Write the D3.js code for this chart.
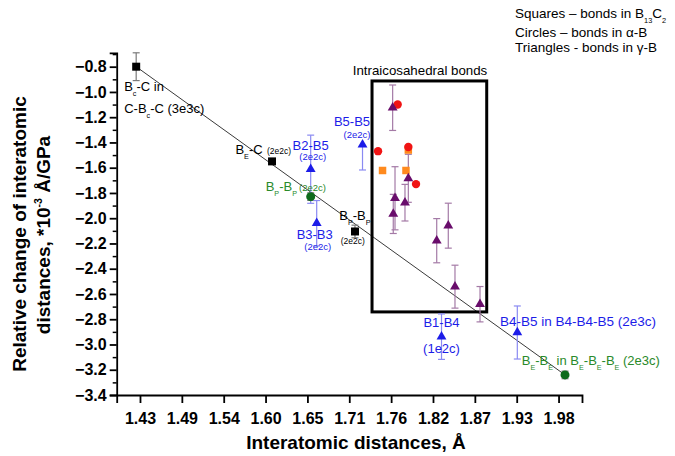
<!DOCTYPE html>
<html><head><meta charset="utf-8">
<script src="https://cdn.jsdelivr.net/npm/d3@7"></script>
<style>body{margin:0;background:#fff}svg{display:block}text{font-family:"Liberation Sans",Arial,sans-serif}</style>
</head><body><svg id="c" width="675" height="456"></svg>
<script>
// ---------- data ----------
// Squares – bonds in B13C2
const sqBlackX = [1.425, 1.6035, 1.7125];
const sqBlackY = [-0.80, -1.55, -2.105];
const sqBlackErr = [0.11, 0, 0.05];
const sqOrangeX = [1.7487, 1.7795, 1.7826];
const sqOrangeY = [-1.622, -1.622, -1.46];
// Circles – bonds in alpha-B
const cirRedX = [1.7428, 1.7686, 1.7826, 1.7927];
const cirRedY = [-1.469, -1.099, -1.436, -1.730];
const cirGreenX = [1.6543, 1.9885];
const cirGreenY = [-1.829, -3.241];
const cirGreenErr = [0.03, 0.03];
// Triangles – bonds in gamma-B
const triBlueNames = ["B2-B5", "B3-B3", "B5-B5", "B1-B4", "B4-B5"];
const triBlueX = [1.6543, 1.6622, 1.7224, 1.8262, 1.9258];
const triBlueY = [-1.612, -2.040, -1.418, -2.938, -2.905];
const triBlueErrUp = [0.27, 0.18, 0, 0.18, 0.21];
const triBlueErrDown = [0.27, 0.18, 0.2, 0.18, 0.21];
const triPurpleX = [1.762, 1.7826, 1.7651, 1.7782, 1.7628, 1.8199, 1.8351, 1.8439, 1.8768];
const triPurpleY = [-1.125, -1.684, -1.842, -1.877, -1.966, -2.178, -2.059, -2.542, -2.681];
const triPurpleErr = [0.18, 0.19, 0.25, 0.145, 0.155, 0.175, 0.178, 0.17, 0.14];
// linear trend and intraicosahedral frame
const fitX = [1.425, 1.9885];
const fitY = [-0.80, -3.241];
const boxX = [1.7349, 1.8856];
const boxY = [-0.913, -2.742];
// ticks
const xTickValues = [1.43, 1.485, 1.54, 1.595, 1.65, 1.705, 1.76, 1.815, 1.87, 1.925, 1.98];
const xTickLabels = ["1.43", "1.49", "1.54", "1.60", "1.65", "1.71", "1.76", "1.82", "1.87", "1.93", "1.98"];
const yTickValues = [-3.4, -3.2, -3.0, -2.8, -2.6, -2.4, -2.2, -2.0, -1.8, -1.6, -1.4, -1.2, -1.0, -0.8];
const yMinorValues = [-3.3, -3.1, -2.9, -2.7, -2.5, -2.3, -2.1, -1.9, -1.7, -1.5, -1.3, -1.1, -0.9, -0.7];

// ---------- drawing ----------
const svg = d3.select("#c");
const x = d3.scaleLinear().domain([1.3994, 2.0108]).range([116.7, 582]);
const y = d3.scaleLinear().domain([-3.4, -0.69]).range([395, 52.8]);

const BLUE = "#1c1ce8", BLUE_E = "#8a8af2", PURPLE = "#690d6b", PURPLE_E = "#a47aa6",
      RED = "#f01414", ORANGE = "#ff8a1e", GREEN = "#0d6b1b", GREEN_T = "#2a8a2a", GREY_E = "#7a7a7a";

// axes
const xAxis = d3.axisBottom(x).tickValues(xTickValues).tickFormat((d, i) => xTickLabels[i])
  .tickSizeOuter(0).tickSize(8).tickPadding(10);
const gx = svg.append("g").attr("transform", "translate(0,395)").call(xAxis);
gx.selectAll("text").attr("font-size", 16).attr("font-weight", "bold").attr("fill", "#000")
  .attr("font-family", '"Liberation Sans",Arial,sans-serif');
gx.selectAll("path,line").attr("stroke", "#000").attr("stroke-width", 1.8);

const yAxis = d3.axisLeft(y).tickValues(yTickValues).tickFormat(d3.format(".1f"))
  .tickSizeOuter(0).tickSize(7).tickPadding(3);
const gy = svg.append("g").attr("transform", "translate(116.7,0)").call(yAxis);
gy.selectAll("text").attr("font-size", 16).attr("font-weight", "bold").attr("fill", "#000")
  .attr("font-family", '"Liberation Sans",Arial,sans-serif');
gy.selectAll("path,line").attr("stroke", "#000").attr("stroke-width", 1.8);
const gym = svg.append("g").attr("transform", "translate(116.7,0)")
  .call(d3.axisLeft(y).tickValues(yMinorValues).tickFormat("").tickSizeOuter(0).tickSize(4));
gym.select(".domain").remove();
gym.selectAll("line").attr("stroke", "#000").attr("stroke-width", 1.5);

// axis titles
svg.append("text").attr("x", 356).attr("y", 449).attr("text-anchor", "middle")
  .attr("font-size", 19).attr("font-weight", "bold").text("Interatomic distances, Å");

function rich(parent, x0, y0, parts, size, fill, anchor, weight) {
  const t = parent.append("text").attr("x", x0).attr("y", y0).attr("font-size", size)
    .attr("fill", fill || "#000").attr("text-anchor", anchor || "start");
  if (weight) t.attr("font-weight", weight);
  let shift = 0;
  parts.forEach(p => {
    const [s, k] = typeof p === "string" ? [p, "n"] : p;
    const target = k === "sub" ? size * 0.38 : k === "sup" ? -size * 0.4 : 0;
    const ts = t.append("tspan").text(s).attr("dy", (target - shift).toFixed(2));
    if (k !== "n") ts.attr("font-size", (size * 0.55).toFixed(1));
    shift = target;
  });
  return t;
}

const yt = svg.append("g").attr("transform", "rotate(-90)");
yt.append("text").attr("x", -234).attr("y", 26).attr("text-anchor", "middle")
  .attr("font-size", 19).attr("font-weight", "bold").text("Relative change of interatomic");
rich(yt, -235, 50, ["distances, *10", ["-3", "sup"], " Å/GPa"], 19, "#000", "middle", "bold");

// trend line
svg.append("line").attr("x1", x(fitX[0])).attr("y1", y(fitY[0])).attr("x2", x(fitX[1])).attr("y2", y(fitY[1]))
  .attr("stroke", "#3a3a3a").attr("stroke-width", 1);

// frame
svg.append("rect").attr("x", x(boxX[0])).attr("y", y(boxY[0]))
  .attr("width", x(boxX[1]) - x(boxX[0])).attr("height", y(boxY[1]) - y(boxY[0]))
  .attr("fill", "none").attr("stroke", "#000").attr("stroke-width", 3);
svg.append("text").attr("x", x(boxX[0]) - 19.3).attr("y", y(boxY[0]) - 6)
  .attr("font-size", 13.3).text("Intraicosahedral bonds");

// error bars
const eg = svg.append("g");
function errBar(xv, yv, up, down, color) {
  if (!up && !down) return;
  const cx = x(xv), t = y(yv + up), b = y(yv - down), w = 3.5;
  eg.append("line").attr("x1", cx).attr("x2", cx).attr("y1", t).attr("y2", b).attr("stroke", color).attr("stroke-width", 1.2);
  if (up) eg.append("line").attr("x1", cx - w).attr("x2", cx + w).attr("y1", t).attr("y2", t).attr("stroke", color).attr("stroke-width", 1.2);
  if (down) eg.append("line").attr("x1", cx - w).attr("x2", cx + w).attr("y1", b).attr("y2", b).attr("stroke", color).attr("stroke-width", 1.2);
}
sqBlackX.forEach((v, i) => errBar(v, sqBlackY[i], sqBlackErr[i], sqBlackErr[i], GREY_E));
cirGreenX.forEach((v, i) => errBar(v, cirGreenY[i], cirGreenErr[i], cirGreenErr[i], GREY_E));
triBlueX.forEach((v, i) => errBar(v, triBlueY[i], triBlueErrUp[i], triBlueErrDown[i], BLUE_E));
triPurpleX.forEach((v, i) => errBar(v, triPurpleY[i], triPurpleErr[i], triPurpleErr[i], PURPLE_E));

// markers
const mg = svg.append("g");
const sqSym = d3.symbol(d3.symbolSquare, 64)();
const sqSymS = d3.symbol(d3.symbolSquare, 56)();
const triSym = d3.symbol(d3.symbolTriangle, 42)();
sqBlackX.forEach((v, i) => mg.append("path").attr("d", sqSym).attr("transform", `translate(${x(v)},${y(sqBlackY[i])})`).attr("fill", "#000"));
sqOrangeX.forEach((v, i) => mg.append("path").attr("d", sqSymS).attr("transform", `translate(${x(v)},${y(sqOrangeY[i])})`).attr("fill", ORANGE));
cirRedX.forEach((v, i) => mg.append("circle").attr("cx", x(v)).attr("cy", y(cirRedY[i])).attr("r", 4.2).attr("fill", RED));
cirGreenX.forEach((v, i) => mg.append("circle").attr("cx", x(v)).attr("cy", y(cirGreenY[i])).attr("r", 4.5).attr("fill", GREEN));
triPurpleX.forEach((v, i) => mg.append("path").attr("d", triSym).attr("transform", `translate(${x(v)},${y(triPurpleY[i])})`).attr("fill", PURPLE));
triBlueX.forEach((v, i) => mg.append("path").attr("d", triSym).attr("transform", `translate(${x(v)},${y(triBlueY[i])})`).attr("fill", BLUE));

// annotations
const lg = svg.append("g");
const P = (xa, ya, i) => [x(xa[i]), y(ya[i])];
let [px, py] = P(sqBlackX, sqBlackY, 0);
rich(lg, px - 12, py + 24, ["B", ["c", "sub"], "-C in"], 13, "#000");
rich(lg, px - 12, py + 46, ["C-B", ["c", "sub"], "-C (3e3c)"], 13, "#000");
[px, py] = P(sqBlackX, sqBlackY, 1);
rich(lg, px - 36.6, py - 7, ["B", ["E", "sub"], "-C"], 13, "#000");
lg.append("text").attr("x", px - 5).attr("y", py - 7).attr("font-size", 8.5).text("(2e2c)");
[px, py] = P(sqBlackX, sqBlackY, 2);
rich(lg, px - 15.7, py - 11, ["B", ["P", "sub"], "-B", ["P", "sub"]], 13, "#000");
lg.append("text").attr("x", px - 14.3).attr("y", py + 12.3).attr("font-size", 8.5).text("(2e2c)");

[px, py] = P(cirGreenX, cirGreenY, 0);
rich(lg, px - 45, py - 6, ["B", ["P", "sub"], "-B", ["P", "sub"]], 13, GREEN_T);
lg.append("text").attr("x", px - 11.7).attr("y", py - 6).attr("font-size", 9.5).attr("fill", GREEN_T).text("(2e2c)");
[px, py] = P(cirGreenX, cirGreenY, 1);
rich(lg, px - 43.3, py - 10, ["B", ["E", "sub"], "-B", ["E", "sub"], " in B", ["E", "sub"], "-B", ["E", "sub"], "-B", ["E", "sub"], " (2e3c)"], 13, GREEN_T);

function blueLab(i, dx, dy, sub, sdx, sdy, subSize) {
  const [bx, by] = P(triBlueX, triBlueY, i);
  lg.append("text").attr("x", bx + dx).attr("y", by + dy).attr("font-size", 13).attr("fill", BLUE)
    .attr("text-anchor", "middle").text(triBlueNames[i]);
  lg.append("text").attr("x", bx + sdx).attr("y", by + sdy).attr("font-size", subSize).attr("fill", BLUE)
    .attr("text-anchor", "middle").text(sub);
}
blueLab(0, 0, -19.5, "(2e2c)", 2, -9, 9.5);
blueLab(1, -2, 15.5, "(2e2c)", 1, 27, 9.5);
blueLab(2, -10.5, -19, "(2e2c)", -5.5, -7, 9.5);
blueLab(3, 0, -10, "(1e2c)", 0, 16, 13);
[px, py] = P(triBlueX, triBlueY, 4);
lg.append("text").attr("x", px - 17.3).attr("y", py - 6.5).attr("font-size", 13.5).attr("fill", BLUE)
  .text(triBlueNames[4] + " in B4-B4-B5 (2e3c)");

// legend
const leg = svg.append("g");
rich(leg, 515, 18.3, ["Squares – bonds in B", ["13", "sub"], "C", ["2", "sub"]], 13.5, "#000");
leg.append("text").attr("x", 515).attr("y", 36.5).attr("font-size", 13.5).text("Circles – bonds in α-B");
leg.append("text").attr("x", 515).attr("y", 52).attr("font-size", 13.5).text("Triangles - bonds in γ-B");
</script></body></html>
